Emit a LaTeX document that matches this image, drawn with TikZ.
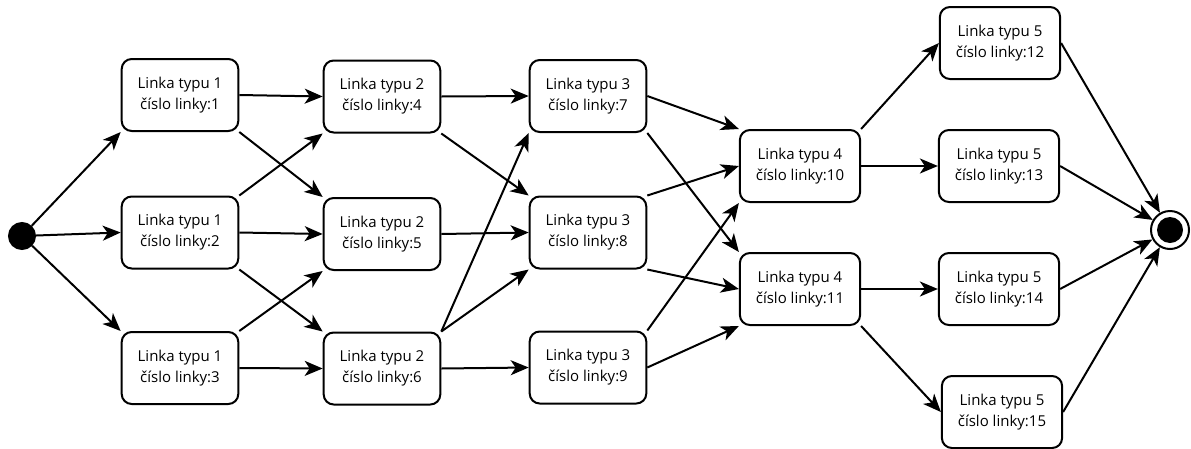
\documentclass[tikz,border=0pt]{standalone}
\usepackage{fontspec}
\setmainfont{Open Sans}
\usetikzlibrary{arrows.meta}

\begin{document}
\begin{tikzpicture}[x=1pt, y=-1pt,
    >={Stealth[length=18pt, width=15pt, inset=5pt]},
    line width=2pt,
    linka/.style={
    draw,
    rounded corners=10pt,
    align=center,
    font=\fontsize{15pt}{21pt}\selectfont,
    inner xsep=16pt,
    minimum width=114pt,
    minimum height=72pt},
    initstate/.style={
    draw,
    fill=black,
    circle,
    inner sep=0pt,
    minimum size=26pt},
    finalstate/.style={
    draw,
    fill=white,
    circle,
    inner sep=0pt,
    minimum size=38pt}]

    \useasboundingbox (0,0) rectangle (1191,448);

    \node[initstate] (init) at (22,236) {};

    \node[linka] (1) at (180,95) {Linka typu 1\\číslo linky:1};
    \node[linka] (2) at (180,232.5) {Linka typu 1\\číslo linky:2};
    \node[linka] (3) at (180,368) {Linka typu 1\\číslo linky:3};

    \node[linka] (4) at (382,96.5) {Linka typu 2\\číslo linky:4};
    \node[linka] (5) at (382,234) {Linka typu 2\\číslo linky:5};
    \node[linka] (6) at (382,368.5) {Linka typu 2\\číslo linky:6};

    \node[linka] (7) at (588,96) {Linka typu 3\\číslo linky:7};
    \node[linka] (8) at (588,232.5) {Linka typu 3\\číslo linky:8};
    \node[linka] (9) at (588,367.5) {Linka typu 3\\číslo linky:9};

    \node[linka] (10) at (800,166) {Linka typu 4\\číslo linky:10};
    \node[linka] (11) at (800,289) {Linka typu 4\\číslo linky:11};

    \node[linka] (12) at (1000,43) {Linka typu 5\\číslo linky:12};
    \node[linka] (13) at (999,166) {Linka typu 5\\číslo linky:13};
    \node[linka] (14) at (999,289) {Linka typu 5\\číslo linky:14};
    \node[linka] (15) at (1002,412) {Linka typu 5\\číslo linky:15};

    \node[finalstate] (final) at (1170,230) {};
    \fill (final.center) circle (13);

    \draw[->] (init) -- (1.south west);
    \draw[->] (init) -- (2.west);
    \draw[->] (init) -- (3.north west);

    \draw[->] (1.east) -- (4.west);
    \draw[->] (1.south east) -- (5.north west);
    \draw[->] (2.north east) -- (4.south west);
    \draw[->] (2.east) -- (5.west);
    \draw[->] (2.south east) -- (6.north west);
    \draw[->] (3.north east) -- (5.south west);
    \draw[->] (3.east) -- (6.west);

    \draw[->] (4.east) -- (7.west);
    \draw[->] (4.south east) -- (8.north west);
    \draw[->] (5.east) -- (8.west);
    \draw[->] (6.north east) -- (7.south west);
    \draw[->] (6.north east) -- (8.south west);
    \draw[->] (6.east) -- (9.west);

    \draw[->] (7.east) -- (10.north west);
    \draw[->] (7.south east) -- (11.north west);
    \draw[->] (8.north east) -- (10.west);
    \draw[->] (8.south east) -- (11.west);
    \draw[->] (9.north east) -- (10.south west);
    \draw[->] (9.east) -- (11.south west);

    \draw[->] (10.north east) -- (12.west);
    \draw[->] (10.east) -- (13.west);
    \draw[->] (11.east) -- (14.west);
    \draw[->] (11.south east) -- (15.west);

    \draw[->] (12.east) -- (final);
    \draw[->] (13.east) -- (final);
    \draw[->] (14.east) -- (final);
    \draw[->] (15.east) -- (final);
\end{tikzpicture}
\end{document}
